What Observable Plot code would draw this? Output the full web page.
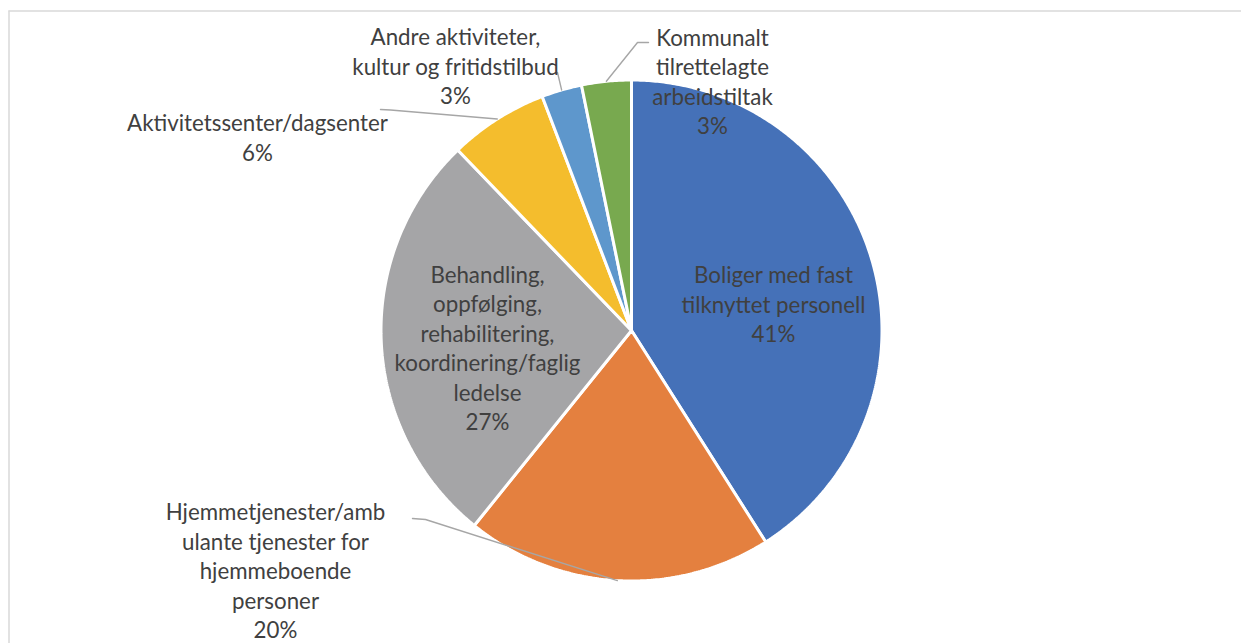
<!DOCTYPE html>
<html>
<head>
<meta charset="utf-8">
<script src="https://cdn.jsdelivr.net/npm/d3@7"></script>
<script src="https://cdn.jsdelivr.net/npm/@observablehq/plot@0.6"></script>
<style>
  html, body { margin: 0; padding: 0; background: #fff; overflow: hidden; }
  #chart svg { display: block; }
</style>
</head>
<body>
<div id="chart"></div>
<script>
// ---- Data ----
const categories = [
  "Boliger med fast\ntilknyttet personell",
  "Hjemmetjenester/amb\nulante tjenester for\nhjemmeboende\npersoner",
  "Behandling,\noppfølging,\nrehabilitering,\nkoordinering/faglig\nledelse",
  "Aktivitetssenter/dagsenter",
  "Andre aktiviteter,\nkultur og fritidstilbud",
  "Kommunalt\ntilrettelagte\narbeidstiltak"
];
const values = [41.0, 19.8, 27.0, 6.4, 2.6, 3.2];
const colors = ["#4571B8", "#E4803F", "#A5A5A7", "#F4BD2D", "#5E97CC", "#78A94F"];

// ---- Layout (pixel units of the 1241x643 canvas) ----
const W = 1241, H = 643;
const CX = 631, CY = 330, R = 250.5;
// label block centres, and leader-line start points near the label (null = no leader)
const labelAt = [
  [773, 303], [275, 569.5], [487, 346.5], [257, 136], [455, 65], [712, 80]
];
const leaderStart = [
  null,
  [[412, 518], [425, 519]],
  null,
  [[380, 109], [390, 109.5]],
  [[557, 72]],
  [[648, 42], [637, 42]]
];

// font size tuned so a Calibri-like width is reproduced
const ctx = document.createElement("canvas").getContext("2d");
ctx.font = "24px Lato";
const fs = 24 * 261 / ctx.measureText("Aktivitetssenter/dagsenter").width;

const total = d3.sum(values);
const rows = categories.map((c, i) => ({name: c, value: values[i], i}));
const arcs = d3.pie().sort(null).value(d => d.value).startAngle(0).endAngle(2 * Math.PI)(rows);

const px = (a, r) => CX + r * Math.sin(a);
const py = (a, r) => CY - r * Math.cos(a);

// slice polygons
const slicePts = [];
for (const a of arcs) {
  const name = a.data.name;
  slicePts.push({name, x: CX, y: CY});
  const n = Math.max(2, Math.ceil((a.endAngle - a.startAngle) / (Math.PI / 360)));
  for (let k = 0; k <= n; k++) {
    const t = a.startAngle + (a.endAngle - a.startAngle) * k / n;
    slicePts.push({name, x: px(t, R), y: py(t, R)});
  }
}

// leader lines: from label to slice edge at mid-angle
const leaderPts = [];
arcs.forEach((a, i) => {
  if (!leaderStart[i]) return;
  const mid = (a.startAngle + a.endAngle) / 2;
  for (const [x, y] of leaderStart[i]) leaderPts.push({k: i, x, y});
  leaderPts.push({k: i, x: px(mid, R), y: py(mid, R)});
});

const labels = arcs.map((a, i) => ({
  x: labelAt[i][0], y: labelAt[i][1],
  text: a.data.name + "\n" + Math.round(a.data.value / total * 100) + "%"
}));

const chart = Plot.plot({
  width: W, height: H,
  margin: 0,
  x: {domain: [0, W], range: [0, W], axis: null},
  y: {domain: [0, H], range: [0, H], axis: null},
  color: {domain: categories, range: colors},
  marks: [
    Plot.ruleX([8.5], {y1: 10.5, y2: H, stroke: "#d9d9d9", strokeWidth: 1.5}),
    Plot.ruleY([10.5], {x1: 8.5, x2: W, stroke: "#d9d9d9", strokeWidth: 1.5}),
    Plot.line(slicePts, {x: "x", y: "y", z: "name", fill: "name", stroke: "white",
      strokeWidth: 3, curve: "linear-closed", strokeLinejoin: "miter"}),
    Plot.line(leaderPts, {x: "x", y: "y", z: "k", stroke: "#a6a6a6", strokeWidth: 1.4}),
    Plot.text(labels, {x: "x", y: "y", text: "text", lineAnchor: "middle",
      fill: "#404040", fontSize: fs, lineHeight: 29.5 / fs, fontFamily: "Lato"})
  ]
});
document.getElementById("chart").appendChild(chart);
</script>
</body>
</html>
